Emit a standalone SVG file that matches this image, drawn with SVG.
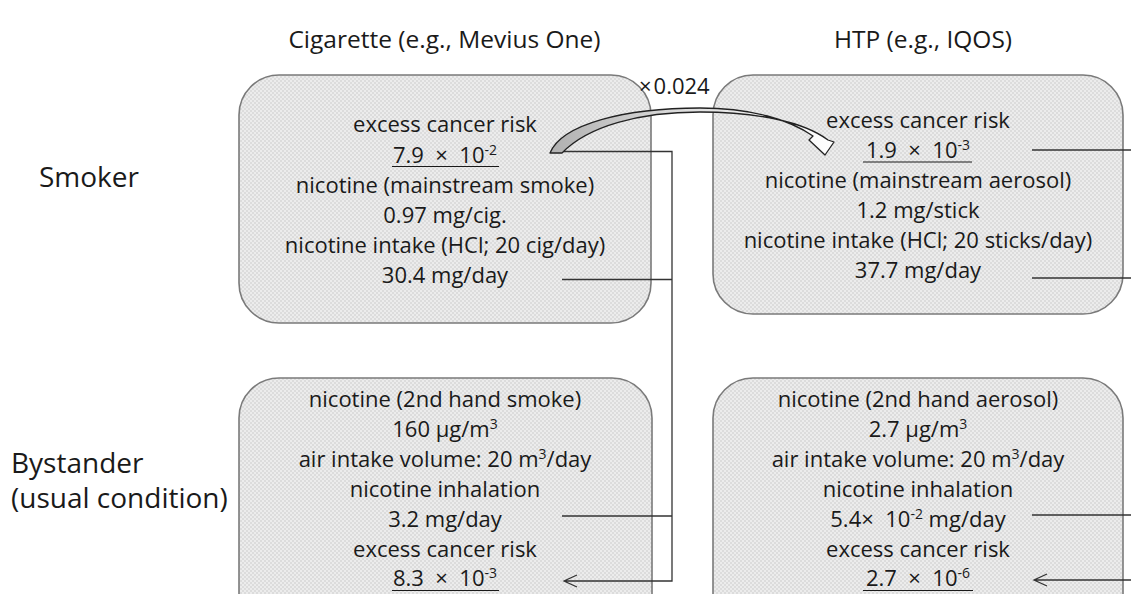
<svg xmlns="http://www.w3.org/2000/svg" width="1131" height="594" viewBox="0 0 1131 594">
<style>
text{font-family:"Open Sans","Noto Sans","Liberation Sans",sans-serif;fill:#1a1a1a}
.hd{font-size:24.5px;text-anchor:middle}
.rl{font-size:28px}
.bt{font-size:22px;text-anchor:middle}
.box{fill:url(#dots);stroke:#7a7a7a;stroke-width:1.6}
.ul{stroke:#1a1a1a;stroke-width:1.2}
.cn{fill:none;stroke:#333;stroke-width:1.3}
.sup{font-size:14px}
</style>
<defs>
<pattern id="dots" width="4" height="4" patternUnits="userSpaceOnUse">
<rect width="4" height="4" fill="#ececec"/>
<rect width="2" height="2" fill="#dcdcdc"/>
<rect x="2" y="2" width="2" height="2" fill="#dcdcdc"/>
</pattern>
<linearGradient id="ag" x1="0" y1="0" x2="1" y2="0">
<stop offset="0" stop-color="#b0b0b0"/>
<stop offset="0.5" stop-color="#e0e0e0"/>
<stop offset="1" stop-color="#ffffff"/>
</linearGradient>
</defs>
<rect width="1131" height="594" fill="#fff"/>

<g id="headers">
<text class="hd" x="444.5" y="48">Cigarette (e.g., Mevius One)</text>
<text class="hd" x="923" y="48">HTP (e.g., IQOS)</text>
<text class="rl" x="39" y="187">Smoker</text>
<text class="rl" x="11" y="473">Bystander</text>
<text class="rl" x="11" y="508">(usual condition)</text>
</g>

<g id="node-cig-smoker">
<rect class="box" x="239" y="75" width="412" height="248" rx="40"/>
<text class="bt" x="445" y="132">excess cancer risk</text>
<text class="bt" x="445" y="163">7.9&#160; ×&#160; 10<tspan class="sup" dy="-8">-2</tspan></text>
<line class="ul" x1="392" y1="166.5" x2="499" y2="166.5"/>
<text class="bt" x="445" y="193">nicotine (mainstream smoke)</text>
<text class="bt" x="445" y="223">0.97 mg/cig.</text>
<text class="bt" x="445" y="253">nicotine intake (HCl; 20 cig/day)</text>
<text class="bt" x="445" y="283">30.4 mg/day</text>
</g>

<g id="node-htp-smoker">
<rect class="box" x="713" y="75" width="410" height="239" rx="40"/>
<text class="bt" x="918" y="128">excess cancer risk</text>
<text class="bt" x="918" y="158">1.9&#160; ×&#160; 10<tspan class="sup" dy="-8">-3</tspan></text>
<line class="ul" x1="863" y1="162" x2="972" y2="162"/>
<text class="bt" x="918" y="188">nicotine (mainstream aerosol)</text>
<text class="bt" x="918" y="218">1.2 mg/stick</text>
<text class="bt" x="918" y="248">nicotine intake (HCl; 20 sticks/day)</text>
<text class="bt" x="918" y="278">37.7 mg/day</text>
</g>

<g id="node-cig-bystander">
<rect class="box" x="239" y="378" width="413" height="260" rx="40"/>
<text class="bt" x="445" y="407">nicotine (2nd hand smoke)</text>
<text class="bt" x="445" y="437">160 µg/m<tspan class="sup" dy="-8">3</tspan></text>
<text class="bt" x="445" y="467">air intake volume: 20 m<tspan class="sup" dy="-8">3</tspan><tspan dy="8">/day</tspan></text>
<text class="bt" x="445" y="497">nicotine inhalation</text>
<text class="bt" x="445" y="527">3.2 mg/day</text>
<text class="bt" x="445" y="557">excess cancer risk</text>
<text class="bt" x="445" y="586">8.3&#160; ×&#160; 10<tspan class="sup" dy="-8">-3</tspan></text>
<line class="ul" x1="392" y1="590.5" x2="499" y2="590.5"/>
</g>

<g id="node-htp-bystander">
<rect class="box" x="713" y="378" width="410" height="260" rx="40"/>
<text class="bt" x="918" y="407">nicotine (2nd hand aerosol)</text>
<text class="bt" x="918" y="437">2.7 µg/m<tspan class="sup" dy="-8">3</tspan></text>
<text class="bt" x="918" y="467">air intake volume: 20 m<tspan class="sup" dy="-8">3</tspan><tspan dy="8">/day</tspan></text>
<text class="bt" x="918" y="497">nicotine inhalation</text>
<text class="bt" x="918" y="527">5.4×&#160; 10<tspan class="sup" dy="-8">-2</tspan><tspan dy="8"> mg/day</tspan></text>
<text class="bt" x="918" y="557">excess cancer risk</text>
<text class="bt" x="918" y="586">2.7&#160; ×&#160; 10<tspan class="sup" dy="-8">-6</tspan></text>
<line class="ul" x1="863" y1="590.5" x2="973" y2="590.5"/>
</g>

<g id="connectors">
<path class="cn" d="M562 151.5 H672 V581 H564 M577 575 L564 581 L577 587 M562 279.5 H672 M562 516 H672"/>
<path class="cn" d="M1032 150 H1131 M1032 278 H1131 M1032 515 H1131 M1131 580 H1034 M1047 574 L1034 580 L1047 586"/>
<path d="M550 153 C562 124 625 108 700 108 C752 108 790 120 813 136 L809 140 L825 155 L834 142 L828 140 C804 122 758 112 700 112 C640 112 588 126 562 153 Z" fill="url(#ag)" stroke="#222" stroke-width="1.3" stroke-linejoin="round"/>
<text x="639" y="94" font-size="22">×<tspan dx="2">0.024</tspan></text>
</g>
</svg>
